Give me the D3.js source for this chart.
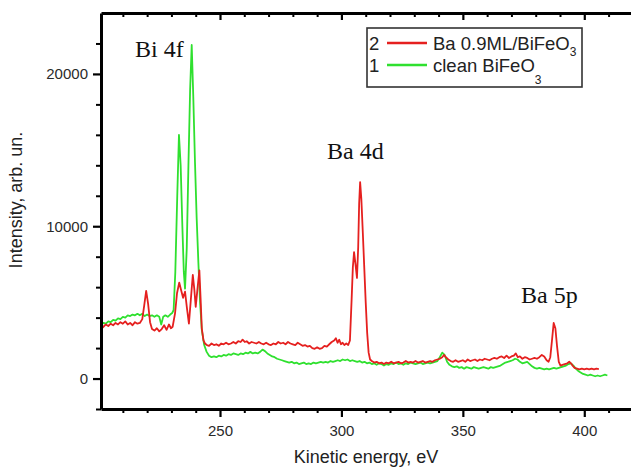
<!DOCTYPE html>
<html>
<head>
<meta charset="utf-8">
<script src="https://cdn.jsdelivr.net/npm/d3@7/dist/d3.min.js"></script>
<style>
  html, body { margin: 0; padding: 0; background: #fff; }
  svg { display: block; }
</style>
</head>
<body>
<svg id="chart" width="631" height="469"></svg>
<script>
// ---- Data ----
const seriesNames = ["Ba 0.9ML/BiFeO", "clean BiFeO"];
const seriesNumbers = ["2", "1"];
const peakLabels = ["Bi 4f", "Ba 4d", "Ba 5p"];
const xTickLabels = [250, 300, 350, 400];
const yTickLabels = [0, 10000, 20000];

// Series 2: Ba 0.9ML/BiFeO3 (red)
const redEnergy = [201,202,203,204,205,206,207,208,209,210,211,212,213,214,215,216,217,218,218.8,219.6,220.4,221.2,222,223,224,225,226,227,228,229,229.8,230.5,231.5,232.3,233.2,234,234.8,235.6,236.4,237.2,238,238.8,239.4,240,240.8,241.5,242,242.5,243.2,243.8,244.6,245.5,246.5,247.5,248.5,249.5,250.5,251.5,252.5,253.5,254.5,255.5,256.5,257.5,258.5,259.3,260.2,261,262,263,264,265,266,267,268,269,270,271,272,273,274,275,276,277,278,279,280,281,282,283,284,285,286,287,288,289,290,291,292,293,294,295,296,297,297.7,298.4,299.1,299.8,300.5,301.2,302,302.8,303.5,304.2,304.7,305.2,305.8,306.4,306.9,307.3,307.7,308.2,308.8,309.4,310,310.6,311.2,311.8,312.5,313.5,314.5,315.5,316.5,317.5,318.5,319.5,320.5,321.5,322.5,323.5,324.5,325.5,326.5,327.5,328.5,329.5,330.5,331.5,332.5,333.5,334.5,335.5,336.5,337.5,338.5,339.5,340.5,341.5,342.3,343,344,345,346,347,348,349,350,351,352,353,354,355,356,357,358,359,360,361,362,363,364,365,366,367,368,369,370,371,371.8,372.6,373.5,374.5,375.5,376.5,377.5,378.5,379.5,380.5,381.5,382.5,383.5,384.5,385.3,386,386.7,387.4,388.1,388.8,389.5,390.2,391,392,393,393.8,394.5,395.2,396,397,398,399,400,401,402,403,404,405,406];
const redIntensity = [3250,3400,3550,3450,3600,3500,3650,3550,3700,3600,3750,3550,3650,3500,3700,3600,3650,3900,4800,5750,4900,3700,3250,3150,3300,3100,3250,3500,3200,3550,3300,3400,4300,5600,6300,5800,5300,5700,4600,3600,5200,6800,5900,4700,6000,7100,5300,3300,2500,2300,2200,2150,2300,2200,2250,2150,2300,2250,2350,2250,2300,2400,2300,2450,2400,2550,2400,2450,2300,2400,2350,2300,2400,2300,2250,2350,2250,2200,2300,2250,2400,2300,2350,2250,2400,2300,2250,2200,2350,2250,2150,2200,2100,2150,2000,1950,2050,1950,2000,2150,2100,2250,2400,2500,2650,2350,2550,2250,2350,2200,2300,2200,2500,5200,7300,8300,7500,6600,8600,11500,12900,11800,9600,7300,5000,3000,1700,1250,1150,1050,1100,1000,1050,950,1050,1000,1100,1000,1050,1100,1000,1050,1150,1050,1100,1050,1150,1050,1100,1150,1050,1100,1150,1100,1200,1250,1300,1400,1550,1400,1250,1150,1100,1200,1100,1150,1200,1100,1250,1150,1200,1250,1150,1250,1200,1300,1250,1200,1300,1350,1300,1400,1450,1350,1500,1350,1450,1500,1650,1400,1450,1300,1400,1350,1250,1300,1350,1300,1400,1550,1450,1200,1100,1400,2500,3650,3300,2100,1100,850,900,950,1000,1100,1000,850,700,650,600,650,600,650,600,650,600,650,620];

// Series 1: clean BiFeO3 (green)
const greenEnergy = [201,202,203,204,205,206,207,208,209,210,211,212,213,214,215,216,217,218,219,220,221,222,223,224,225,225.8,226.6,227.5,228.5,229.5,230.3,230.9,231.6,232.4,233.1,233.8,234.5,235.1,235.6,236.3,237,237.7,238.35,239,239.7,240.4,241.1,241.8,242.5,243.5,244.5,245.5,246.5,247.5,248.5,249.5,250.5,251.5,252.5,253.5,254.5,255.5,256.5,257.5,258.5,259.5,260.5,261.5,262.5,263.5,264.5,265.5,266.5,267.5,268.5,269.5,270.5,271.5,272.5,273.5,274.5,275.5,276.5,277.5,278.5,279.5,280.5,281.5,282.5,283.5,284.5,285.5,286.5,287.5,288.5,289.5,290.5,291.5,292.5,293.5,294.5,295.5,296.5,297.5,298.5,299.5,300.5,301.5,302.5,303.5,304.5,305.5,306.5,307.5,308.5,309.5,310.5,311.5,312.5,313.5,314.5,315.5,316.5,317.5,318.5,319.5,320.5,321.5,322.5,323.5,324.5,325.5,326.5,327.5,328.5,329.5,330.5,331.5,332.5,333.5,334.5,335.5,336.5,337.5,338.5,339.5,340.5,341.5,342.5,343.5,344.5,345.5,346.5,347.5,348.5,349.5,350.5,351.5,352.5,353.5,354.5,355.5,356.5,357.5,358.5,359.5,360.5,361.5,362.5,363.5,364.5,365.5,366.5,367.5,368.5,369.5,370.5,371.5,372.5,373.5,374.5,375.5,376.5,377.5,378.5,379.5,380.5,381.5,382.5,383.5,384.5,385.5,386.5,387.5,388.5,389.5,390.5,391.5,392.5,393.5,394.5,395.5,396.5,397.5,398.5,399.5,400.5,401.5,402.5,403.5,404.5,405.5,406.5,407.5,408.5,409.5];
const greenIntensity = [3500,3650,3600,3750,3700,3850,3800,3950,3900,4050,4000,4150,4100,4200,4150,4250,4150,4250,4100,4200,4100,4150,4050,4150,4050,3550,4050,4150,4050,4200,4300,4500,7000,12000,16000,14000,10000,7000,5900,8500,14000,19000,21900,18500,14200,10500,7600,5000,3200,2200,1750,1500,1400,1450,1400,1500,1450,1550,1500,1600,1550,1650,1600,1550,1650,1600,1700,1650,1750,1650,1700,1650,1750,1900,1800,1650,1550,1450,1400,1300,1250,1200,1150,1100,1050,1100,1000,1050,950,1000,1050,950,1000,950,1050,1000,1050,1100,1050,1100,1050,1150,1100,1150,1200,1150,1250,1200,1250,1150,1200,1150,1100,1150,1050,1100,1000,1050,950,1000,900,1000,950,850,950,900,1000,950,1050,950,1000,900,1000,950,1050,1000,950,1000,1050,950,1000,1050,1000,1050,1100,1150,1400,1700,1550,1100,900,800,750,800,700,750,650,750,700,650,750,700,650,700,750,700,650,750,700,750,800,850,950,1050,1100,1150,1200,1300,1250,1100,1000,1050,1100,950,800,700,650,700,650,600,650,600,650,700,650,700,750,800,850,950,1000,850,650,500,400,300,250,200,250,200,150,200,150,200,250,200];

// ---- Layout ----
const svg = d3.select("#chart");
const W = 631, H = 469;
const plot = { left: 101, top: 13, bottom: 409, right: 662 };
const x = d3.scaleLinear().domain([201, 432]).range([plot.left, plot.right]);
const y = d3.scaleLinear().domain([-2000, 24000]).range([plot.bottom, plot.top]);

const sans = "'Liberation Sans', Arial, Helvetica, sans-serif";
const serif = "'Liberation Serif', 'Times New Roman', Times, serif";
const redColor = "#e5201f";
const greenColor = "#2fe02f";

svg.append("rect").attr("width", W).attr("height", H).attr("fill", "#fff");

svg.append("defs").append("clipPath").attr("id", "clip")
  .append("rect").attr("x", plot.left).attr("y", plot.top)
  .attr("width", plot.right - plot.left).attr("height", plot.bottom - plot.top);

// ---- Curves ----
const line = d3.line().x(d => x(d[0])).y(d => y(d[1]));
const greenData = greenEnergy.map((e, i) => [e, greenIntensity[i]]);
const redData = redEnergy.map((e, i) => [e, redIntensity[i]]);
const curves = svg.append("g").attr("clip-path", "url(#clip)");
curves.append("path").datum(greenData).attr("d", line)
  .attr("fill", "none").attr("stroke", greenColor).attr("stroke-width", 1.8).attr("stroke-linejoin", "round");
curves.append("path").datum(redData).attr("d", line)
  .attr("fill", "none").attr("stroke", redColor).attr("stroke-width", 1.8).attr("stroke-linejoin", "round");

// ---- Axes ----
function styleAxis(g, w) {
  g.select(".domain").attr("stroke", "#000").attr("stroke-width", 3);
  g.selectAll(".tick line").attr("stroke", "#000").attr("stroke-width", w);
  g.selectAll("text").attr("font-family", sans).attr("font-size", 15).attr("fill", "#2a2a2a");
}
const xMinor = d3.range(210, 431, 10).filter(v => v % 50 !== 0);
const yMinor = d3.range(-2000, 23000, 2000).filter(v => v % 10000 !== 0);

// bottom minor
svg.append("g").attr("transform", `translate(0,${plot.bottom})`)
  .call(d3.axisBottom(x).tickValues(xMinor).tickSize(4).tickFormat(""))
  .call(g => { styleAxis(g, 2); g.select(".domain").remove(); });
// bottom major
svg.append("g").attr("transform", `translate(0,${plot.bottom})`)
  .call(d3.axisBottom(x).tickValues(xTickLabels).tickSize(8).tickPadding(8).tickSizeOuter(0).tickFormat(d3.format("d")))
  .call(g => styleAxis(g, 2.2));
// top ticks (inward)
svg.append("g").attr("transform", `translate(0,${plot.top})`)
  .call(d3.axisTop(x).tickValues(xMinor).tickSize(-4).tickFormat(""))
  .call(g => { styleAxis(g, 2); g.select(".domain").remove(); });
svg.append("g").attr("transform", `translate(0,${plot.top})`)
  .call(d3.axisTop(x).tickValues(xTickLabels).tickSize(-7).tickSizeOuter(0).tickFormat(""))
  .call(g => styleAxis(g, 2.2));
// left minor
svg.append("g").attr("transform", `translate(${plot.left},0)`)
  .call(d3.axisLeft(y).tickValues(yMinor).tickSize(5).tickFormat(""))
  .call(g => { styleAxis(g, 2); g.select(".domain").remove(); });
// left major
svg.append("g").attr("transform", `translate(${plot.left},0)`)
  .call(d3.axisLeft(y).tickValues(yTickLabels).tickSize(8).tickPadding(5).tickSizeOuter(0).tickFormat(d3.format("d")))
  .call(g => styleAxis(g, 2.2));

// ---- Axis titles ----
svg.append("text").attr("x", 366).attr("y", 463).attr("text-anchor", "middle")
  .attr("font-family", sans).attr("font-size", 18).attr("fill", "#222")
  .text("Kinetic energy, eV");
svg.append("text").attr("transform", "translate(21.5,200) rotate(-90)").attr("text-anchor", "middle")
  .attr("font-family", sans).attr("font-size", 18).attr("fill", "#222")
  .text("Intensity, arb. un.");

// ---- Peak annotations ----
const peakPos = [[135, 57], [327, 159], [521, 303]];
peakLabels.forEach((t, i) => {
  svg.append("text").attr("x", peakPos[i][0]).attr("y", peakPos[i][1])
    .attr("font-family", serif).attr("font-size", 24).attr("fill", "#111").text(t);
});

// ---- Legend ----
const lg = svg.append("g");
lg.append("rect").attr("x", 367).attr("y", 28).attr("width", 215).attr("height", 59)
  .attr("fill", "#fff").attr("stroke", "#333").attr("stroke-width", 1.6);
const rows = [
  { num: seriesNumbers[0], name: seriesNames[0], color: redColor, cy: 43, base: 50, sub: 6 },
  { num: seriesNumbers[1], name: seriesNames[1], color: greenColor, cy: 65, base: 72, sub: 12 }
];
rows.forEach(r => {
  lg.append("text").attr("x", 369).attr("y", r.base).attr("font-family", sans)
    .attr("font-size", 18.5).attr("fill", "#222").text(r.num);
  lg.append("line").attr("x1", 387).attr("x2", 427).attr("y1", r.cy).attr("y2", r.cy)
    .attr("stroke", r.color).attr("stroke-width", 2.5);
  const t = lg.append("text").attr("x", 433).attr("y", r.base).attr("font-family", sans)
    .attr("font-size", 18.5).attr("fill", "#222");
  t.append("tspan").text(r.name);
  t.append("tspan").attr("dy", r.sub).attr("font-size", 12).text("3");
});
</script>
</body>
</html>
